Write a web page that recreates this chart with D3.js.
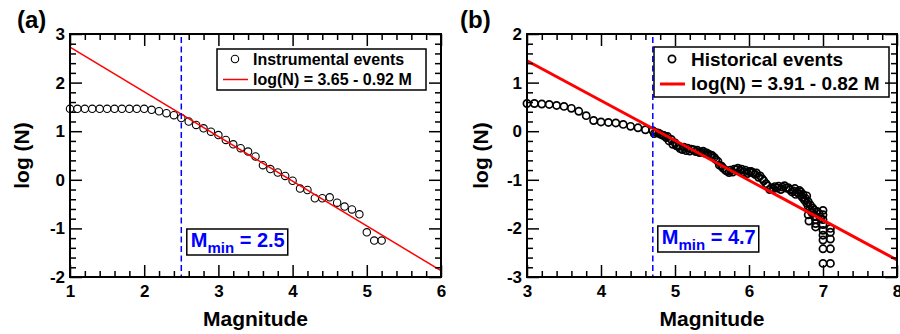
<!DOCTYPE html>
<html>
<head>
<meta charset="utf-8">
<script src="https://cdn.jsdelivr.net/npm/d3@7/dist/d3.min.js"></script>
<style>
  html, body { margin: 0; padding: 0; background: #fff; }
  svg { display: block; }
  text { font-family: "Liberation Sans", Arial, Helvetica, sans-serif; font-weight: bold; }
</style>
</head>
<body>
<svg id="chart" width="900" height="334"></svg>
<script>
// ---- Panel (a): instrumental catalogue, cumulative frequency-magnitude ----
const instMag = [1.0, 1.1, 1.2, 1.3, 1.4, 1.5, 1.6, 1.7, 1.8, 1.9, 2.0,
                 2.1, 2.2, 2.3, 2.4, 2.5, 2.6, 2.7, 2.8, 2.9, 3.0,
                 3.1, 3.2, 3.3, 3.4, 3.5, 3.6, 3.7, 3.8, 3.9, 4.0,
                 4.1, 4.2, 4.3, 4.4, 4.5, 4.6, 4.7, 4.8, 4.9, 5.0,
                 5.1, 5.2];
const instLogN = [1.46, 1.46, 1.46, 1.46, 1.46, 1.46, 1.46, 1.46, 1.46, 1.46, 1.46,
                  1.44, 1.41, 1.37, 1.33, 1.27, 1.20, 1.13, 1.06, 0.99, 0.92,
                  0.82, 0.73, 0.65, 0.58, 0.48, 0.30, 0.22, 0.15, 0.08, -0.02,
                  -0.18, -0.21, -0.38, -0.38, -0.36, -0.47, -0.55, -0.61, -0.71, -1.08,
                  -1.25, -1.25];
const instFit = [3.65, 0.92];          // log(N) = a - b M
const instMmin = 2.5;
const instXTicks = [1, 2, 3, 4, 5, 6];
const instYTicks = [-2, -1, 0, 1, 2, 3];

// ---- Panel (b): historical catalogue ----
const histMag = [
  3.0, 3.1, 3.2, 3.3, 3.4, 3.5, 3.6, 3.7, 3.8, 3.9, 4.0, 4.1, 4.2, 4.3, 4.4, 4.5, 4.6, 4.7,
  4.75, 4.8, 4.85, 4.9, 4.95, 5.0, 5.05, 5.1, 5.15, 5.2, 5.25, 5.3, 5.35, 5.4, 5.45, 5.5,
  5.55, 5.6, 5.65, 5.7, 5.75, 5.8, 5.85, 5.9, 5.95, 6.0, 6.05, 6.1, 6.15, 6.2, 6.25, 6.3,
  6.35, 6.4, 6.45, 6.5, 6.55, 6.6, 6.65, 6.7, 6.75, 6.8, 6.85, 6.9,
  4.72, 4.78, 4.83, 4.88, 4.92, 4.97, 5.02, 5.07, 5.12, 5.17, 5.22, 5.28, 5.33, 5.38, 5.43,
  5.48, 5.53, 5.58, 5.63, 5.68, 5.73, 5.78, 5.83, 5.88, 5.93, 5.98, 6.03, 6.08, 6.13, 6.18,
  6.23, 6.28, 6.33, 6.38, 6.43, 6.48, 6.53, 6.58, 6.63, 6.68, 6.72, 6.78, 6.82, 6.88,
  6.62, 6.67, 6.70, 6.73, 6.76, 6.78, 6.80, 6.83, 6.86, 6.88, 6.90, 6.92, 6.95, 6.97,
  6.80, 6.81, 6.90, 6.90,
  7.0, 7.0, 7.0, 7.0, 7.0, 7.0, 7.0, 7.0, 7.0,
  7.1, 7.1, 7.1, 7.1, 7.1
];
const histLogN = [
  0.57, 0.57, 0.56, 0.55, 0.53, 0.51, 0.47, 0.41, 0.32, 0.22, 0.19, 0.18, 0.17, 0.14, 0.10, 0.07, 0.03, 0.01,
  -0.03, -0.06, -0.09, -0.11, -0.17, -0.24, -0.31, -0.38, -0.40, -0.41, -0.38, -0.39, -0.43, -0.45, -0.47, -0.50,
  -0.58, -0.70, -0.76, -0.82, -0.80, -0.78, -0.76, -0.78, -0.80, -0.83, -0.85, -0.86, -0.92, -1.02, -1.12, -1.17,
  -1.14, -1.13, -1.15, -1.17, -1.20, -1.23, -1.26, -1.32, -1.42, -1.55, -1.68, -1.75,
  -0.05, -0.04, -0.08, -0.13, -0.20, -0.27, -0.30, -0.36, -0.33, -0.35, -0.37, -0.42, -0.44, -0.41, -0.45,
  -0.49, -0.54, -0.62, -0.72, -0.80, -0.85, -0.84, -0.79, -0.81, -0.84, -0.87, -0.83, -0.89, -0.95, -0.98,
  -1.08, -1.20, -1.18, -1.17, -1.20, -1.12, -1.16, -1.25, -1.30, -1.22, -1.36, -1.48, -1.62, -1.62,
  -1.18, -1.28, -1.25, -1.30, -1.38, -1.33, -1.45, -1.52, -1.58, -1.75, -1.82, -1.65, -1.70, -1.80,
  -1.72, -1.85, -1.90, -1.97,
  -1.63, -1.72, -1.82, -1.92, -2.04, -2.14, -2.24, -2.42, -2.72,
  -2.00, -2.08, -2.22, -2.42, -2.72
];
const histFit = [3.91, 0.82];
const histMmin = 4.7;
const histXTicks = [3, 4, 5, 6, 7, 8];
const histYTicks = [-3, -2, -1, 0, 1, 2];

const svg = d3.select("#chart");

function minorTicks(majors) {
  const out = [];
  for (let i = 0; i < majors.length - 1; i++) {
    const step = (majors[i + 1] - majors[i]) / 5;
    for (let k = 1; k < 5; k++) out.push(Math.round((majors[i] + k * step) * 100) / 100);
  }
  return out;
}

function drawPanel(o) {
  const g = svg.append("g");
  const x = d3.scaleLinear().domain([o.xTicks[0], o.xTicks[o.xTicks.length - 1]]).range([o.left, o.right]);
  const y = d3.scaleLinear().domain([o.yTicks[0], o.yTicks[o.yTicks.length - 1]]).range([o.bottom, o.top]);

  // observed cumulative counts
  g.append("g").selectAll("circle")
    .data(o.mag.map((m, i) => [m, o.logN[i]]))
    .join("circle")
    .attr("cx", d => x(d[0]))
    .attr("cy", d => y(d[1]))
    .attr("r", o.r)
    .attr("fill", "none")
    .attr("stroke", "#000")
    .attr("stroke-width", o.sw);

  // Gutenberg-Richter fit line
  const [m0, m1] = x.domain();
  g.append("line")
    .attr("x1", x(m0)).attr("y1", y(o.fit[0] - o.fit[1] * m0))
    .attr("x2", x(m1)).attr("y2", y(o.fit[0] - o.fit[1] * m1))
    .attr("stroke", "#ff0000")
    .attr("stroke-width", o.lineW);

  // completeness magnitude marker
  g.append("line")
    .attr("x1", x(o.mmin)).attr("x2", x(o.mmin))
    .attr("y1", o.top + 3).attr("y2", o.bottom)
    .attr("stroke", "#0000ff")
    .attr("stroke-width", 1.5)
    .attr("stroke-dasharray", "6,3.5");

  // Mmin label in a framed box
  const mg = g.append("g");
  const mt = mg.append("text")
    .attr("x", x(o.mmin) + o.mBoxDx + 4)
    .attr("y", o.mBaseline)
    .attr("fill", "#0000ff")
    .attr("font-size", 20);
  mt.append("tspan").text("M");
  mt.append("tspan").attr("font-size", 15).attr("dy", 6).text("min");
  mt.append("tspan").attr("dy", -6).text(" = " + o.mmin.toFixed(1));
  const mb = mt.node().getBBox();
  mg.insert("rect", "text")
    .attr("x", x(o.mmin) + o.mBoxDx)
    .attr("y", o.mBaseline - 18)
    .attr("width", mb.x + mb.width + 3 - (x(o.mmin) + o.mBoxDx))
    .attr("height", 26)
    .attr("fill", "#fff")
    .attr("stroke", "#000")
    .attr("stroke-width", 1.5);

  // legend
  const L = o.legend;
  const lg = g.append("g");
  lg.append("rect")
    .attr("x", L.x0).attr("y", L.y0)
    .attr("width", L.x1 - L.x0).attr("height", L.y1 - L.y0)
    .attr("fill", "#fff").attr("stroke", "#000").attr("stroke-width", 1.5);
  lg.append("circle")
    .attr("cx", L.markX).attr("cy", L.row1).attr("r", o.r)
    .attr("fill", "none").attr("stroke", "#000").attr("stroke-width", o.sw);
  lg.append("line")
    .attr("x1", L.lineX0).attr("x2", L.lineX1)
    .attr("y1", L.row2).attr("y2", L.row2)
    .attr("stroke", "#ff0000").attr("stroke-width", o.lineW);
  lg.append("text").attr("x", L.textX).attr("y", L.base1)
    .attr("font-size", L.fs).text(L.label);
  lg.append("text").attr("x", L.textX).attr("y", L.base2)
    .attr("font-size", L.fs)
    .text("log(N) = " + o.fit[0].toFixed(2) + " - " + o.fit[1].toFixed(2) + " M");

  // axes: major and minor ticks on all four sides, pointing inward
  const fmt = d => String(d);
  const styleAxis = sel => {
    sel.select(".domain").remove();
    sel.selectAll(".tick line").attr("stroke", "#000").attr("stroke-width", 1.5);
    sel.selectAll(".tick text").attr("fill", "#000").attr("font-size", 17)
      .attr("font-family", "'Liberation Sans', Arial, Helvetica, sans-serif").attr("font-weight", "bold");
  };
  const ax = g.append("g");
  const xMin = minorTicks(o.xTicks), yMin = minorTicks(o.yTicks);

  ax.append("g").attr("transform", `translate(0,${o.bottom})`)
    .call(d3.axisBottom(x).tickValues(o.xTicks).tickSize(-12).tickPadding(8).tickFormat(fmt)).call(styleAxis);
  ax.append("g").attr("transform", `translate(0,${o.bottom})`)
    .call(d3.axisBottom(x).tickValues(xMin).tickSize(-6).tickFormat("")).call(styleAxis);
  ax.append("g").attr("transform", `translate(0,${o.top})`)
    .call(d3.axisTop(x).tickValues(o.xTicks).tickSize(-12).tickFormat("")).call(styleAxis);
  ax.append("g").attr("transform", `translate(0,${o.top})`)
    .call(d3.axisTop(x).tickValues(xMin).tickSize(-6).tickFormat("")).call(styleAxis);
  ax.append("g").attr("transform", `translate(${o.left},0)`)
    .call(d3.axisLeft(y).tickValues(o.yTicks).tickSize(-12).tickPadding(5).tickFormat(fmt)).call(styleAxis);
  ax.append("g").attr("transform", `translate(${o.left},0)`)
    .call(d3.axisLeft(y).tickValues(yMin).tickSize(-6).tickFormat("")).call(styleAxis);
  ax.append("g").attr("transform", `translate(${o.right},0)`)
    .call(d3.axisRight(y).tickValues(o.yTicks).tickSize(-12).tickFormat("")).call(styleAxis);
  ax.append("g").attr("transform", `translate(${o.right},0)`)
    .call(d3.axisRight(y).tickValues(yMin).tickSize(-6).tickFormat("")).call(styleAxis);

  // frame
  g.append("rect")
    .attr("x", o.left).attr("y", o.top)
    .attr("width", o.right - o.left).attr("height", o.bottom - o.top)
    .attr("fill", "none").attr("stroke", "#000").attr("stroke-width", 2);

  // axis titles and panel letter
  g.append("text")
    .attr("x", (o.left + o.right) / 2).attr("y", 326)
    .attr("text-anchor", "middle").attr("font-size", 21)
    .text("Magnitude");
  g.append("text")
    .attr("transform", `translate(${o.yTitleX},${(o.top + o.bottom) / 2}) rotate(-90)`)
    .attr("text-anchor", "middle").attr("font-size", 21)
    .text("log (N)");
  g.append("text")
    .attr("x", o.tagX).attr("y", 28)
    .attr("font-size", 24)
    .text(o.tag);
}

drawPanel({
  tag: "(a)", tagX: 17, yTitleX: 29,
  left: 70, right: 441, top: 34, bottom: 277,
  xTicks: instXTicks, yTicks: instYTicks,
  mag: instMag, logN: instLogN, fit: instFit, mmin: instMmin,
  r: 3.7, sw: 1.1, lineW: 1.5,
  mBoxDx: 5.5, mBaseline: 247,
  legend: { x0: 217, x1: 426, y0: 49, y1: 90, markX: 235, lineX0: 223, lineX1: 248,
            row1: 59, row2: 79.5, base1: 64.5, base2: 84.5, textX: 253, fs: 16,
            label: "Instrumental events" }
});

drawPanel({
  tag: "(b)", tagX: 460, yTitleX: 488,
  left: 527, right: 897, top: 34, bottom: 277,
  xTicks: histXTicks, yTicks: histYTicks,
  mag: histMag, logN: histLogN, fit: histFit, mmin: histMmin,
  r: 3.6, sw: 1.7, lineW: 3,
  mBoxDx: 5, mBaseline: 244,
  legend: { x0: 654, x1: 889, y0: 47, y1: 97, markX: 672, lineX0: 660, lineX1: 685,
            row1: 59, row2: 84, base1: 65.5, base2: 90, textX: 691, fs: 19,
            label: "Historical events" }
});
</script>
</body>
</html>
